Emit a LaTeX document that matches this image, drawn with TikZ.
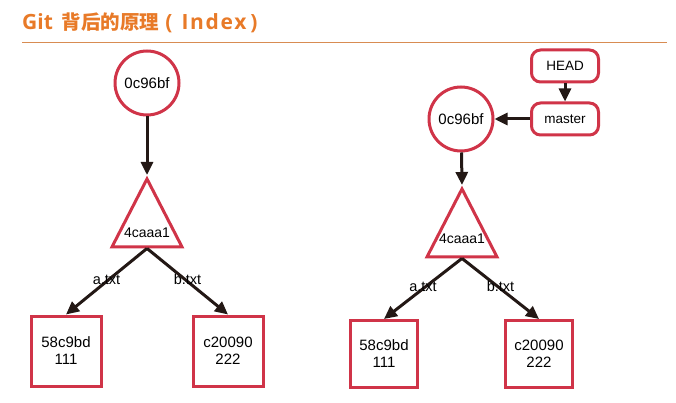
\documentclass[tikz,border=0pt]{standalone}
\usepackage{fontspec}
\setmainfont{Liberation Sans}
\newfontfamily\cjk{Noto Sans CJK SC}
\newfontfamily\titlelatin{Open Sans}
\newfontfamily\titlewide{Open Sans}[LetterSpace=8]
\usetikzlibrary{arrows.meta,shapes.geometric}

\definecolor{objred}{RGB}{208,52,72}
\definecolor{arrowdark}{RGB}{35,24,21}
\definecolor{titleorange}{RGB}{232,122,40}
\definecolor{ruleorange}{RGB}{216,140,82}

\tikzset{
    obj/.style={draw=objred, line width=3pt, fill=white, inner sep=0pt,
        font=\fontsize{15}{17}\selectfont, align=center},
    commit/.style={obj, circle, minimum size=64pt},
    tree/.style={obj, isosceles triangle, shape border rotate=90,
        isosceles triangle stretches, minimum width=70pt, minimum height=68pt},
    blob/.style={obj, rectangle, minimum width=#1, minimum height=#1},
    blob/.default=70pt,
    ref/.style={obj, rectangle, rounded corners=9pt, minimum width=67pt, minimum height=32pt,
        font=\fontsize{13.5}{16}\selectfont},
    link/.style={draw=arrowdark, line width=3pt, -{Triangle[length=13pt,width=12pt]}},
    treename/.style={font=\fontsize{14}{16}\selectfont, inner sep=0pt},
    edgelabel/.style={font=\fontsize{14.5}{16}\selectfont, inner sep=0pt}
}

\begin{document}
\begin{tikzpicture}[x=1pt,y=-1pt]
            \useasboundingbox (0,0) rectangle (676,403);
            \node [anchor=west, inner sep=0pt, text=titleorange,
                font=\bfseries\fontsize{21}{24}\selectfont] (title) at (22,23)
                {{\titlelatin Git}\hspace{9pt}{\cjk\fontsize{19.5}{24}\selectfont 背后的原理}\hspace{6pt}{\titlelatin(}\hspace{9pt}{\titlewide Index}\hspace{4pt}{\titlelatin)}};
            \draw [ruleorange, line width=1pt] (22,43) -- (667,43);

            % before: commit, tree, blobs
            \node [commit] (c1) at (147,83) {0c96bf};
            \node [tree, anchor=apex] (t1) at (147,175) {};
            \node [treename, anchor=base] (t1name) at (147,237) {4caaa1};
            \node [blob] (b1a) at (66,351) {58c9bd\\111};
            \node [blob] (b1b) at (228,351) {c20090\\222};

            \draw [link] (c1) -- (t1.apex);
            \draw [link] (t1.south) -- node[edgelabel, yshift=2pt] (a1) {a.txt} (b1a.north);
            \draw [link] (t1.south) -- node[edgelabel, yshift=2pt] (b1) {b.txt} (b1b.north);

            % after: HEAD and master point at the commit
            \node [ref] (head) at (565,66) {HEAD};
            \node [ref] (master) at (565,119) {master};
            \node [commit] (c2) at (461,119) {0c96bf};
            \node [tree, anchor=apex] (t2) at (462,185) {};
            \node [treename, anchor=base] (t2name) at (462,243) {4caaa1};
            \node [blob=67pt] (b2a) at (384,354) {58c9bd\\111};
            \node [blob=67pt] (b2b) at (539,354) {c20090\\222};

            \draw [link] (head) -- (master);
            \draw [link] (master) -- (c2);
            \draw [link] (c2) -- (t2.apex);
            \draw [link] (t2.south) -- node[edgelabel, yshift=2pt] (a2) {a.txt} (b2a.north);
            \draw [link] (t2.south) -- node[edgelabel, yshift=2pt] (b2) {b.txt} (b2b.north);
        \end{tikzpicture}
\end{document}
